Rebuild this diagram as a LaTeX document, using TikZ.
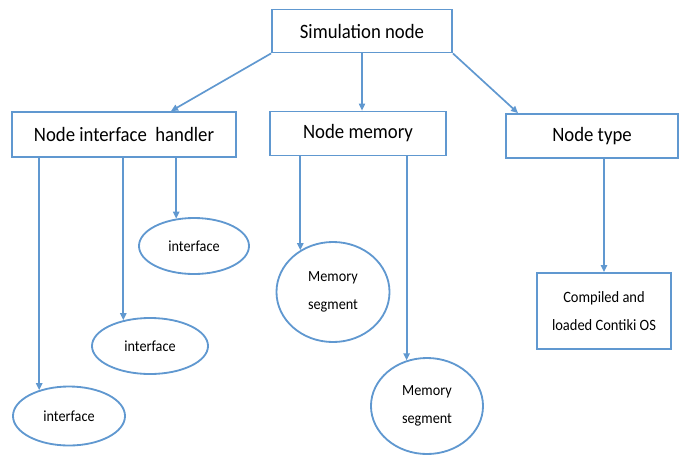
\documentclass[tikz,border=0pt]{standalone}
\usepackage{fontspec}
\setmainfont{Carlito}[FakeStretch=0.92]
\usetikzlibrary{shapes.geometric,arrows.meta}
\definecolor{lineblue}{RGB}{96,152,208}

\begin{document}
\begin{tikzpicture}[x=0.025cm, y=-0.025cm,
  box/.style={draw=lineblue, line width=1.3pt, fill=white, align=center, font=\fontsize{14.5}{17}\selectfont, inner sep=0pt},
  subbox/.style={draw=lineblue, line width=1.3pt, align=center, font=\fontsize{11.2}{20.5}\selectfont, inner sep=0pt},
  leaf/.style={ellipse, draw=lineblue, line width=1.3pt, align=center, font=\fontsize{11}{19.5}\selectfont, inner sep=0pt},
  arrow/.style={draw=lineblue, line width=1.2pt, -{Triangle[length=5pt,width=4.5pt]}},
  thin arrow/.style={arrow, line width=0.8pt}
]
\useasboundingbox (0,0) rectangle (679,456);
% boxes
\node[box, minimum width=4.5cm, minimum height=1.075cm] (sim) at (362,31) {Simulation node};
\node[box, minimum width=5.6cm, minimum height=1.125cm] (nih) at (124,134.5) {Node interface\ \ handler};
\node[box, minimum width=4.4cm, minimum height=1.1cm] (mem) at (358,133.5) {Node memory};
\node[box, minimum width=4.3cm, minimum height=1.1cm] (ntype) at (592,136) {Node type};
\node[subbox, minimum width=3.35cm, minimum height=1.9cm] (os) at (604,311) {Compiled and\\loaded Contiki OS};
% leaves
\node[leaf, minimum width=2.8cm, minimum height=1.475cm] (if1) at (69,416) {interface};
\node[leaf, minimum width=2.9cm, minimum height=1.4cm] (if2) at (150,346) {interface};
\node[leaf, minimum width=2.75cm, minimum height=1.4cm] (if3) at (194,246) {interface};
\node[leaf, minimum width=2.825cm, minimum height=2.5cm] (mem1) at (333,292) {Memory\\segment};
\node[leaf, minimum width=2.8cm, minimum height=2.4cm] (mem2) at (427,406) {Memory\\segment};

% connectors
\draw[arrow] (sim.south west) -- (171,0 |- nih.north);
\draw[thin arrow] (sim.south) -- (sim.south |- mem.north);
\draw[arrow] (sim.south east) -- (518,0 |- ntype.north);
\draw[arrow] (nih.south -| if1.139) -- (if1.139);
\draw[arrow] (nih.south -| if2.136) -- (if2.136);
\draw[arrow] (nih.south -| if3.123) -- (if3.123);
\draw[arrow] (mem.south -| mem1.128) -- (mem1.128);
\draw[arrow] (mem.south -| mem2.114) -- (mem2.114);
\draw[arrow] (ntype.south -| os.north) -- (os.north);
\end{tikzpicture}
\end{document}
